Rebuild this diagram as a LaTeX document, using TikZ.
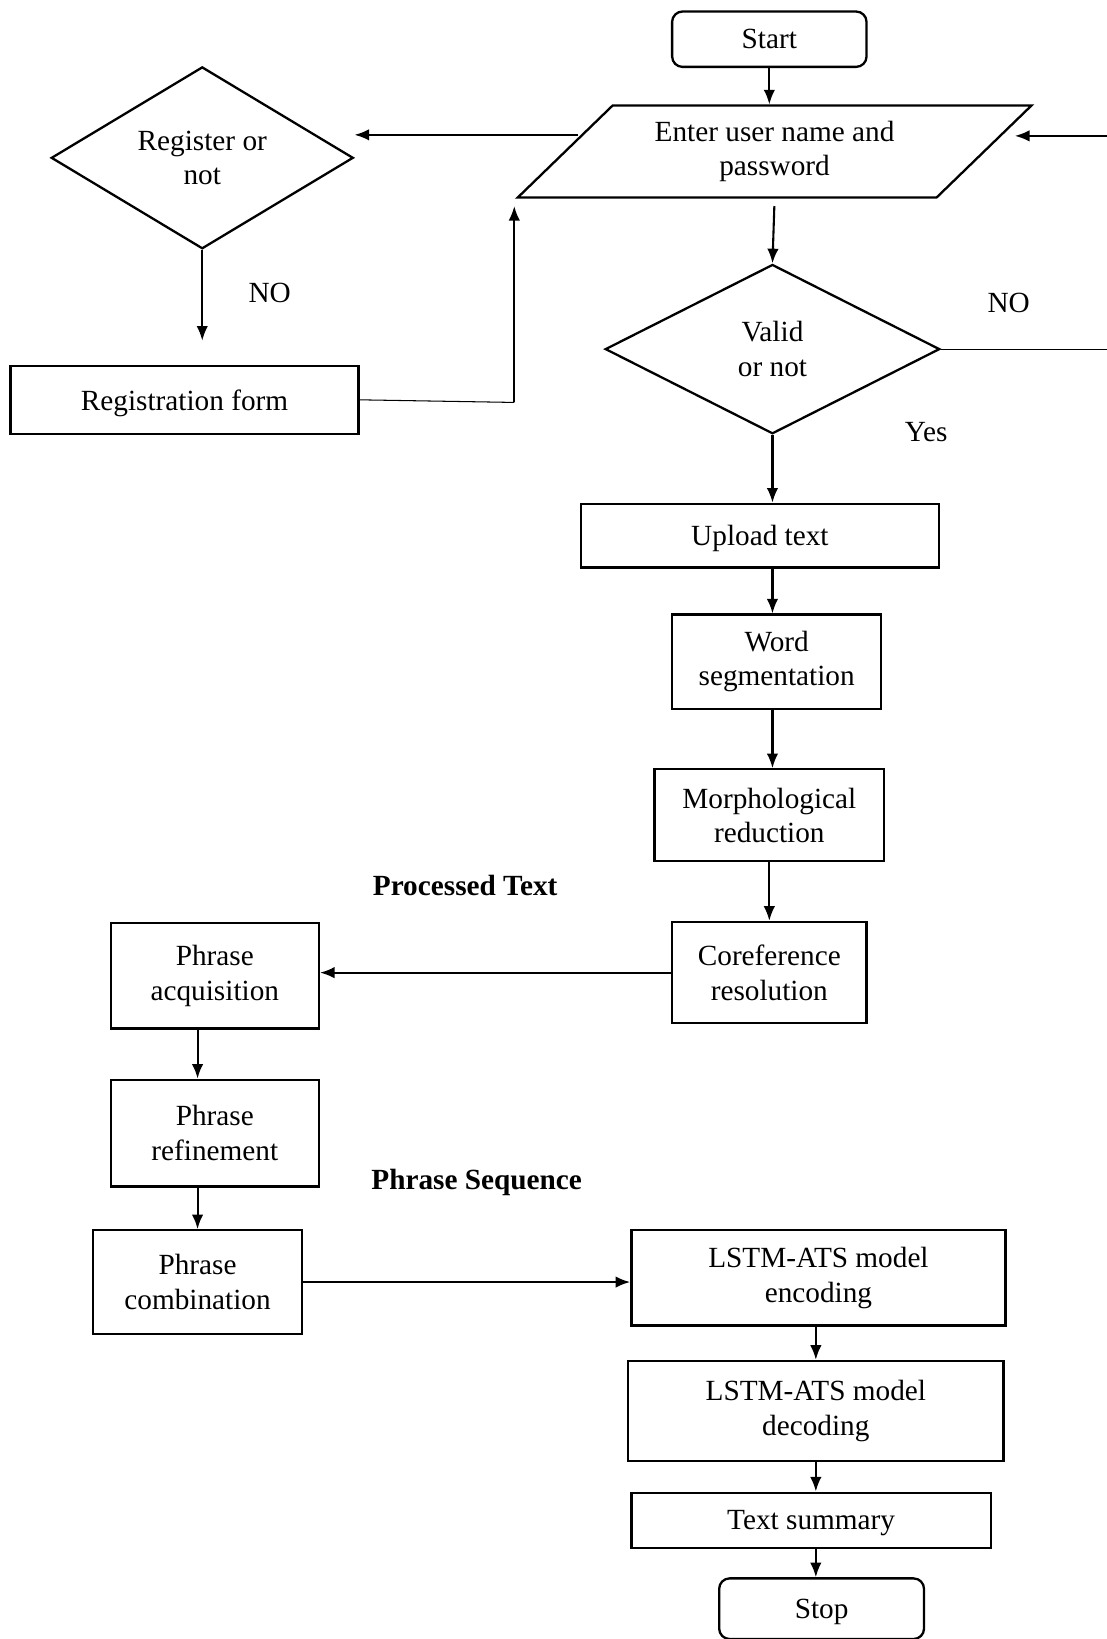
\documentclass[tikz,border=0pt]{standalone}
\usepackage{fontspec}
\setmainfont{Liberation Serif}
\usetikzlibrary{arrows.meta,positioning,shapes.geometric}

\begin{document}
\begin{tikzpicture}[x=0.5pt,y=-0.5pt,
            font=\fontsize{14}{16.5}\selectfont,
            proc/.style={draw,rectangle,line width=1.1pt,align=center,inner sep=2pt},
            single/.style={text depth=0pt},
            term/.style={proc,single,rounded corners=5pt},
            io/.style={draw,trapezium,trapezium left angle=41,trapezium right angle=139,trapezium stretches=true,line width=1.1pt,align=center,inner sep=0pt},
            decision/.style={draw,diamond,line width=1.1pt,align=center,inner sep=0pt},
            lab/.style={align=center},
            head/.style={lab,font=\fontsize{14}{16.5}\selectfont\bfseries},
            conn/.style={draw,-{Latex[length=7pt,width=5.5pt]},line width=1pt},
            wire/.style={draw,line width=0.5pt}
          ]
          \useasboundingbox (0,0) rectangle (1059,1568);

          %login part
          \node[term,minimum width=93pt,minimum height=26.5pt] (start) at (736,37.5) {Start};
          \node[io,minimum width=246pt,minimum height=44pt] (enter) at (741,145) {Enter user name and\\password};
          \node[decision,aspect=1.66,minimum width=144.5pt,minimum height=87pt] (reg) at (193.5,151) {Register or\\not};
          \node[proc,single,minimum width=166.5pt,minimum height=32.5pt] (regform) at (176.5,382.5) {Registration form};
          \node[decision,aspect=1.98,minimum width=160pt,minimum height=81pt] (valid) at (739,334) {Valid\\or not};

          %labels
          \node[lab] (no1) at (258,280) {NO};
          \node[lab] (no2) at (965,290) {NO};
          \node[lab] (yes) at (886,413) {Yes};
          \node[head] (ptext) at (445,847) {Processed Text};
          \node[head] (pseq) at (456,1131) {Phrase Sequence};

          %text processing
          \node[proc,single,minimum width=171pt,minimum height=30.5pt] (upload) at (727,512.5) {Upload text};
          \node[proc,minimum width=100pt,minimum height=45pt] (wordseg) at (743,633) {Word\\segmentation};
          \node[proc,minimum width=110pt,minimum height=44pt] (morph) at (736,780) {Morphological\\reduction};
          \node[proc,minimum width=93pt,minimum height=48.5pt] (coref) at (736,930.5) {Coreference\\resolution};

          \node[proc,minimum width=99.5pt,minimum height=50.5pt] (acq) at (205.5,933.5) {Phrase\\acquisition};
          \node[proc,minimum width=99.5pt,minimum height=51pt] (refine) at (205.5,1084) {Phrase\\refinement};
          \node[proc,minimum width=100pt,minimum height=49.5pt] (comb) at (189,1226.5) {Phrase\\combination};

          \node[proc,minimum width=179pt,minimum height=45.5pt] (enc) at (783,1222.5) {LSTM-ATS model\\encoding};
          \node[proc,minimum width=179.5pt,minimum height=48pt] (dec) at (780.5,1350) {LSTM-ATS model\\decoding};
          \node[proc,single,minimum width=172pt,minimum height=26.5pt] (summ) at (776,1454.5) {Text summary};
          \node[term,minimum width=98pt,minimum height=29pt] (stop) at (786,1539) {Stop};

          %free ends
          \coordinate (enterL) at (553,129);
          \coordinate (regup) at (492,385);
          \coordinate (noR) at (1059,334);
          \coordinate (backR) at (1059,130);

          \path[conn] (start) -- (start |- enter.north);
          \path[conn,shorten <=3.5pt] (enter.south) -- (valid.north);
          \path[conn] (enterL) -- (reg.east |- enterL);
          \path[conn,shorten >=11.5pt] (reg.south) -- (reg.south |- regform.north);
          \path[wire] (regform.east) -- (regup);
          \path[conn,shorten >=3.5pt] (regup) -- (regup |- enter.south);
          \path[wire] (valid.east) -- (noR);
          \path[conn,shorten >=14pt] (backR) -- (enter.east |- backR);
          \path[conn] (valid.south) -- (valid.south |- upload.north);
          \path[conn] (valid |- upload.south) -- (valid |- wordseg.north);
          \path[conn] (valid |- wordseg.south) -- (valid |- morph.north);
          \path[conn] (morph) -- (coref);
          \path[conn] (coref.west) -- (coref.west -| acq.east);
          \path[conn] (comb |- acq.south) -- (comb |- refine.north);
          \path[conn] (comb |- refine.south) -- (comb);
          \path[conn] (comb.east) -- (comb.east -| enc.west);
          \path[conn] (dec |- enc.south) -- (dec);
          \path[conn] (dec) -- (dec |- summ.north);
          \path[conn] (dec |- summ.south) -- (dec |- stop.north);
\end{tikzpicture}
\end{document}
